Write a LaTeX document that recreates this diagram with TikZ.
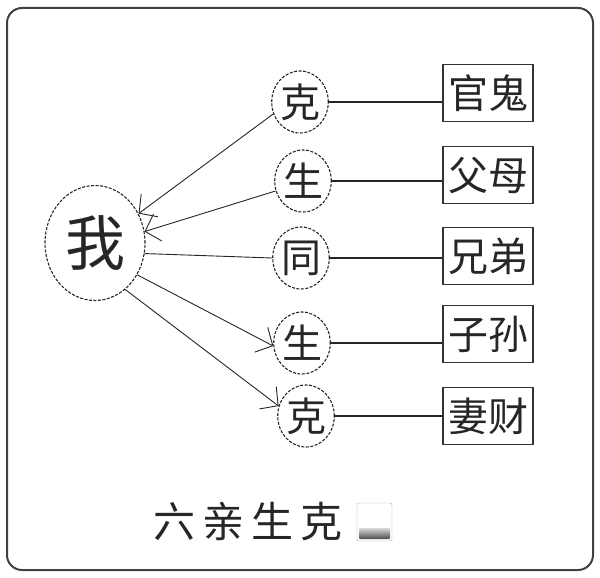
\documentclass[tikz,border=0pt]{standalone}
\usepackage{fontspec}
\newfontfamily\cjk{Noto Sans CJK SC}
\usetikzlibrary{arrows.meta,shapes.geometric}
\tikzset{
  me/.style={ellipse,draw=black!85,line width=1.1pt,dash pattern=on 3pt off 1.5pt,minimum width=100pt,minimum height=115pt,inner sep=0pt,font=\cjk\fontsize{60}{60}\selectfont,text=black!85},
  ring/.style={ellipse,draw=black!85,line width=1.1pt,dash pattern=on 3pt off 1.5pt,minimum width=54pt,minimum height=62pt,inner sep=0pt,font=\cjk\fontsize{40}{40}\selectfont,text=black!85},
  kin/.style={rectangle,draw=black!80,line width=1.4pt,minimum width=90pt,minimum height=57pt,inner sep=0pt,font=\cjk\fontsize{40}{40}\selectfont,text=black!85},
  hit/.style={draw=black!85,line width=0.9pt,-{Straight Barb[length=13pt,width=28pt]}},
  link/.style={draw=black!85,line width=1.2pt}
}
\begin{document}
\begin{tikzpicture}[x=1pt,y=-1pt]
			%%%%% START %%%%%
			\def\xme{95}
			\def\yme{243}
			\def\xkin{488}
			
			\useasboundingbox (0,0) rectangle (600,578);
			\draw[line width=2pt,draw=black!75,rounded corners=15pt] (7,8) rectangle (593,570);
			
			\node[me] (wo) at (\xme,\yme) {我};
			
			\node[ring] (ke1) at (300,102) {克};
			\node[ring] (sheng1) at (303,181) {生};
			\node[ring] (tong) at (301,258) {同};
			\node[ring] (sheng2) at (302,343) {生};
			\node[ring] (ke2) at (306,416) {克};
			
			\node[kin] (guan) at (\xkin,93) {官鬼};
			\node[kin] (fu) at (\xkin,175) {父母};
			\node[kin] (xiong) at (\xkin,256) {兄弟};
			\node[kin] (zi) at (\xkin,334) {子孙};
			\node[kin] (qi) at (\xkin,416) {妻财};
			
			\draw[hit] (ke1.204) -- (wo.34);
			\draw[hit] (sheng1.200) -- (wo.13);
			\draw[link,line width=0.9pt] (wo.-12) -- (tong.west);
			\draw[hit] (wo.-37) -- (sheng2.186);
			\draw[hit] (wo.-57) -- (ke2.160);
			
			\foreach \r/\k in {ke1/guan,sheng1/fu,tong/xiong,sheng2/zi,ke2/qi}
				\draw[link] (\r.east) -- (\r.east -| \k.west);
			
			\node[font=\cjk\fontsize{42}{42}\selectfont\addfontfeature{LetterSpace=16},text=black!85] (title) at (248,522) {六亲生克};
			\draw[draw=black!35,fill=white,rounded corners=2pt] (357,503) rectangle (392,541);
			\shade[top color=black!15,bottom color=black!70,rounded corners=1pt] (359,528) rectangle (390,539);
			%%%%% END %%%%%
\end{tikzpicture}
\end{document}
